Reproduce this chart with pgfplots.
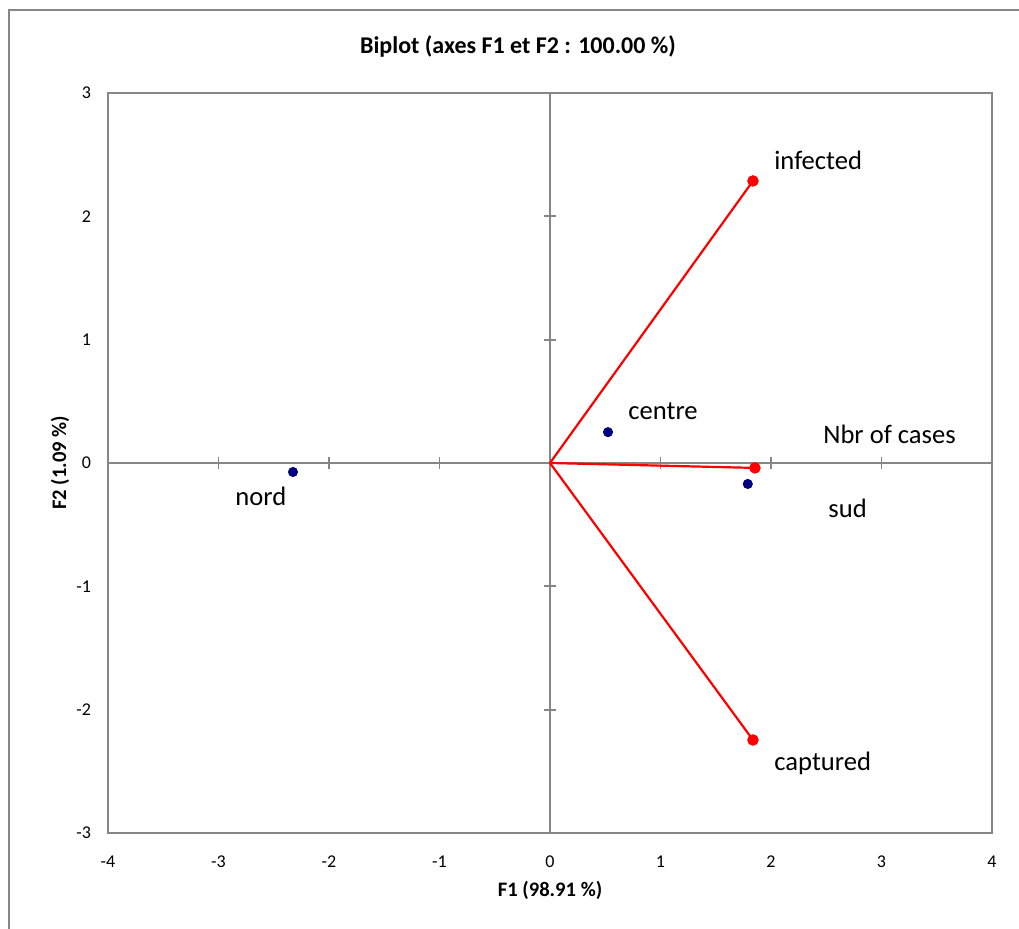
\documentclass[border=0pt]{standalone}
\usepackage{fontspec}
\setmainfont{Carlito}
\usepackage{pgfplots}
\pgfplotsset{compat=1.18}
\definecolor{framegray}{RGB}{134,134,134}
\definecolor{navy}{RGB}{0,0,128}
\tikzset{ptlabel/.style={anchor=west, inner sep=0pt, font=\fontsize{13.3}{16}\selectfont}}
\begin{document}
\begin{tikzpicture}
\begin{axis}[name=main, scale only axis, width=442pt, height=370pt,
  xmin=-4, xmax=4, ymin=-3, ymax=3,
  xtick={-4,...,4}, ytick={-3,...,3},
  major tick length=0pt,
  axis line style={framegray, line width=0.9pt},
  tick label style={font=\fontsize{9}{10}\selectfont},
  /pgf/number format/assume math mode=true,
  xticklabel style={yshift=-8pt},
  yticklabel style={xshift=-5pt},
]
\end{axis}
\begin{axis}[at={(main.south west)}, anchor=south west, scale only axis, width=442pt, height=370pt,
  xmin=-4, xmax=4, ymin=-3, ymax=3,
  axis lines=middle,
  axis line style={-, framegray, line width=0.9pt},
  xtick={-3,-2,-1,1,2,3}, ytick={-2,-1,1,2},
  xticklabels={}, yticklabels={},
  major tick length=6pt, tick align=center,
  tick style={framegray, line width=0.9pt},
  clip=false,
]
\addplot[red, line width=1.1pt, mark=*, mark indices={2}, mark size=2.3pt] coordinates {(0,0) (1.837,2.287)};
\addplot[red, line width=1.1pt, mark=*, mark indices={2}, mark size=2.3pt] coordinates {(0,0) (1.855,-0.04)};
\addplot[red, line width=1.1pt, mark=*, mark indices={2}, mark size=2.3pt] coordinates {(0,0) (1.837,-2.246)};
\addplot[only marks, mark=*, navy, mark size=2.3pt] coordinates {(-2.326,-0.073) (0.525,0.25) (1.79,-0.17)};
\node[ptlabel] at (axis cs:2.027,2.457) {infected};
\node[ptlabel] at (axis cs:0.706,0.422) {centre};
\node[ptlabel] at (axis cs:2.47,0.235) {Nbr of cases};
\node[ptlabel] at (axis cs:2.516,-0.365) {sud};
\node[ptlabel] at (axis cs:-2.851,-0.268) {nord};
\node[ptlabel] at (axis cs:2.027,-2.433) {captured};
\end{axis}
\node[font=\bfseries\fontsize{12}{14}\selectfont] at ([shift={(205pt,393pt)}]main.south west) {Biplot (axes F1 et F2 : 100.00 \%)};
\node[font=\bfseries\fontsize{10.3}{12}\selectfont] at ([shift={(221pt,-28.5pt)}]main.south west) {F1 (98.91 \%)};
\node[font=\bfseries\fontsize{10.3}{12}\selectfont, rotate=90] at ([shift={(-24pt,185pt)}]main.south west) {F2 (1.09 \%)};
\draw[framegray, line width=0.9pt] ([shift={(-49.5pt,-70pt)}]main.south west) rectangle ([shift={(480pt,411.5pt)}]main.south west);
\pgfresetboundingbox
\path[use as bounding box] ([shift={(-54pt,-48pt)}]main.south west) rectangle ([shift={(455.5pt,416.5pt)}]main.south west);
\end{tikzpicture}
\end{document}
